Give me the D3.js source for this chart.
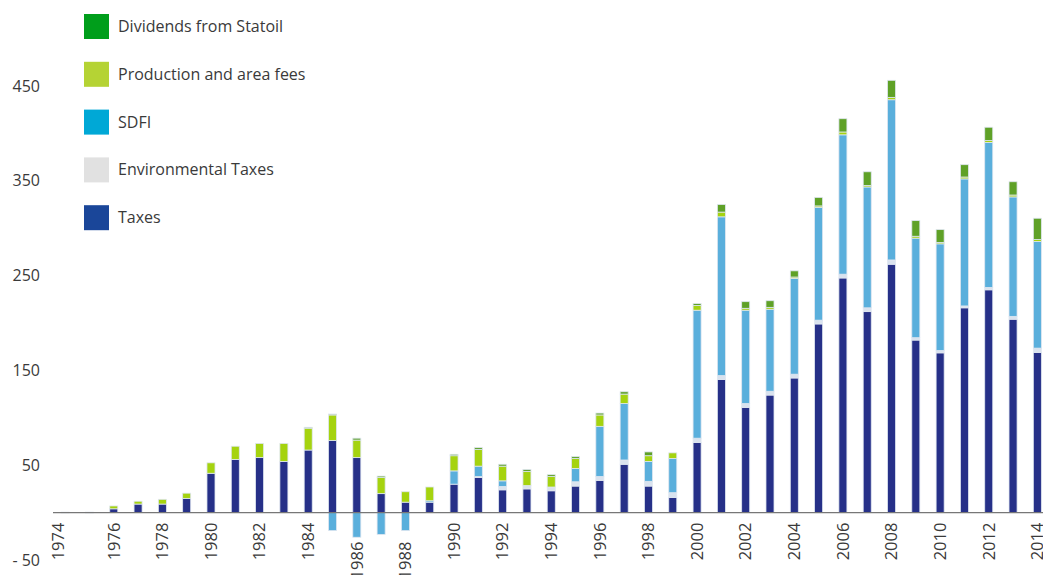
<!DOCTYPE html>
<html>
<head>
<meta charset="utf-8">
<script src="https://cdn.jsdelivr.net/npm/d3@7"></script>
<style>
  body { margin: 0; background: #fff; }
  svg text { font-family: "Open Sans", sans-serif; fill: #3a3a3a; }
</style>
</head>
<body>
<div class="chart"></div>
<script>
const years = d3.range(1974, 2015);

// values in NOK billions
const taxes = [0, 0, 4, 9, 9, 15, 41.5, 56, 58, 54, 66, 76, 58, 20, 11, 11, 30, 37, 24, 25, 23, 28, 34, 51, 28, 16,
  74, 140.5, 111, 124, 142, 199, 247.5, 212, 262, 182, 168.5, 216, 235, 204, 169];
const envTaxes = [0, 0, 0, 0, 0, 0, 0, 0, 0, 0, 0, 0, 0, 0, 0, 0, 0, 1, 3.5, 3.5, 4, 4.5, 4, 4.5, 5, 5,
  4.5, 4, 4, 4, 4, 4, 4, 4, 4.5, 2.5, 2.5, 2, 2.5, 3, 4.5];
const sdfi = [0, 0, 0, 0, 0, 0, 0, 0, 0, 0, 0, -19, -26, -23, -19, 1.5, 14, 11, 6, 0, 0, 14, 53, 59.5, 21, 36,
  135, 167.5, 98.5, 86.5, 101, 119, 147, 127.5, 169, 105, 112.5, 134, 153, 126, 112.5];
const fees = [0.5, 0.5, 3, 3, 5, 5.5, 11, 14, 15, 19, 23, 27, 18.5, 17, 11, 14.5, 16, 17.5, 15.5, 15, 11, 10.5, 12, 10, 6, 6,
  5, 5, 2, 2, 1.5, 1.5, 3, 1.5, 2.5, 2, 1.5, 2, 2, 2, 2];
const dividends = [0, 0, 0, 0, 0, 0, 0, 0, 0, 0, 1, 1, 2, 1.5, 0, 0, 1.5, 2, 2, 2, 2, 2, 2, 2.5, 4, 0,
  2, 8, 7, 7, 6.5, 9, 14, 14.5, 18, 16.5, 13.5, 13, 14, 14, 22.5];

const yTicks = [450, 350, 250, 150, 50, -50];
const labelYears = d3.range(1974, 2015, 2);
const loweredLabels = [1986, 1988];

const series = [
  { key: "Taxes", values: taxes, color: "#263088", legend: "#1a4699" },
  { key: "Environmental Taxes", values: envTaxes, color: "#d9e2ee", legend: "#e1e1e1" },
  { key: "SDFI", values: sdfi, color: "#5aafdc", legend: "#00a8d6" },
  { key: "Production and area fees", values: fees, color: "#a5d30f", legend: "#b5d334" },
  { key: "Dividends from Statoil", values: dividends, color: "#5fa127", legend: "#009e1b" },
];

const width = 1043;
const height = 575;

const svg = d3.select(".chart").append("svg")
  .attr("width", width)
  .attr("height", height);

const x = d3.scaleBand()
  .domain(years)
  .range([53, 1049.5])
  .paddingInner(0.67)
  .paddingOuter(0.335);

const y = d3.scaleLinear()
  .domain([-50, 450])
  .range([560, 86]);

// stack the bars, negatives go downward from zero
const rects = [];
years.forEach((yr, i) => {
  let pos = 0, neg = 0;
  series.forEach(s => {
    const v = s.values[i];
    if (!v) return;
    let y0, y1;
    if (v > 0) { y0 = pos; y1 = pos + v; pos = y1; }
    else { y0 = neg + v; y1 = neg; neg = y0; }
    rects.push({ year: yr, y0, y1, color: s.color });
  });
});

svg.append("g")
  .selectAll("rect")
  .data(rects)
  .join("rect")
  .attr("x", d => x(d.year))
  .attr("width", x.bandwidth())
  .attr("y", d => y(d.y1))
  .attr("height", d => Math.max(0.8, y(d.y0) - y(d.y1)))
  .attr("fill", d => d.color)
  .attr("stroke", "#dfe6f0")
  .attr("stroke-width", 0.8);

// baseline
svg.append("line")
  .attr("x1", 53)
  .attr("x2", width)
  .attr("y1", y(0))
  .attr("y2", y(0))
  .attr("stroke", "#777")
  .attr("stroke-width", 1.3);

// y tick labels
svg.append("g")
  .selectAll("text")
  .data(yTicks)
  .join("text")
  .attr("x", 40)
  .attr("y", d => y(d))
  .attr("dy", "0.35em")
  .attr("text-anchor", "end")
  .style("font-size", "16px")
  .text(d => d < 0 ? "- " + Math.abs(d) : d);

// x tick labels
svg.append("g")
  .selectAll("text")
  .data(labelYears)
  .join("text")
  .attr("transform", d => {
    const yy = loweredLabels.includes(d) ? y(0) + 29 : y(0) + 10;
    const xx = d === 1974 ? x(d) - 3 : x(d) + x.bandwidth() / 2;
    return `translate(${xx},${yy}) rotate(-90)`;
  })
  .attr("dy", "0.35em")
  .attr("text-anchor", "end")
  .style("font-size", "16.5px")
  .text(d => d);

// legend
const legend = svg.append("g")
  .selectAll("g")
  .data(series.slice().reverse())
  .join("g")
  .attr("transform", (d, i) => `translate(84,${14 + i * 47.8})`);

legend.append("rect")
  .attr("width", 25)
  .attr("height", 25)
  .attr("fill", d => d.legend);

legend.append("text")
  .attr("x", 34)
  .attr("y", 12.5)
  .attr("dy", "0.35em")
  .style("font-size", "16px")
  .text(d => d.key);
</script>
</body>
</html>
